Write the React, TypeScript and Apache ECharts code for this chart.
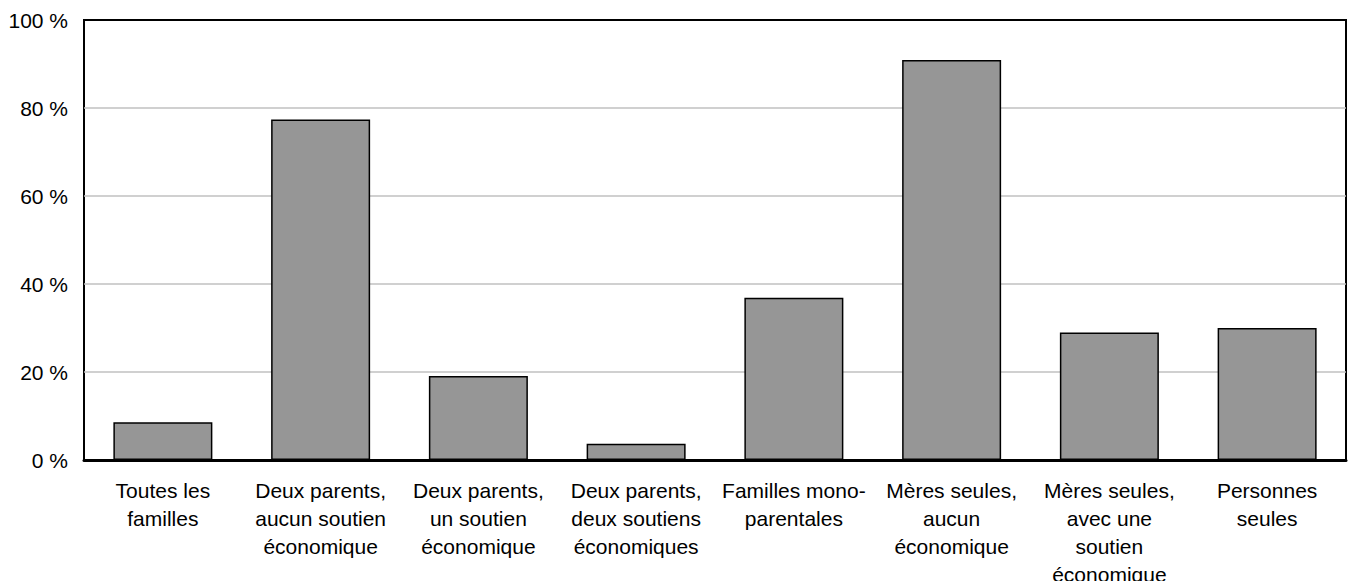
import React, { useEffect, useRef } from "react";
import * as echarts from "echarts";

const categories: string[] = [
  "Toutes les\nfamilles",
  "Deux parents,\naucun soutien\néconomique",
  "Deux parents,\nun soutien\néconomique",
  "Deux parents,\ndeux soutiens\néconomiques",
  "Familles mono-\nparentales",
  "Mères seules,\naucun\néconomique",
  "Mères seules,\navec une\nsoutien\néconomique",
  "Personnes\nseules",
];

const values: number[] = [8.6, 77.4, 19.1, 3.7, 36.9, 90.9, 29.0, 30.0];

const yTicks = { min: 0, max: 100, interval: 20 };

export default function App() {
  const ref = useRef<HTMLDivElement>(null);

  useEffect(() => {
    if (!ref.current) return;
    const chart = echarts.init(ref.current, undefined, { renderer: "svg" });
    const font = "'Liberation Sans', Arial, Helvetica, sans-serif";
    chart.setOption({
      animation: false,
      backgroundColor: "#ffffff",
      grid: {
        left: 84,
        top: 20,
        right: 2,
        height: 440,
        show: true,
        borderColor: "#000000",
        borderWidth: 2,
        backgroundColor: "transparent",
        containLabel: false,
        outerBoundsMode: "none",
      },
      xAxis: {
        type: "category",
        data: categories,
        axisLine: { show: true, lineStyle: { color: "#000000", width: 3 } },
        axisTick: { show: false },
        axisLabel: {
          color: "#000000",
          fontFamily: font,
          fontSize: 21,
          lineHeight: 28,
          margin: 16,
          interval: 0,
          align: "center",
          hideOverlap: false,
        },
        z: 5,
      },
      yAxis: {
        type: "value",
        min: yTicks.min,
        max: yTicks.max,
        interval: yTicks.interval,
        axisLine: { show: false },
        axisTick: { show: false },
        axisLabel: {
          color: "#000000",
          fontFamily: font,
          fontSize: 21,
          margin: 16,
          formatter: "{value} %",
        },
        splitLine: {
          show: true,
          showMinLine: false,
          showMaxLine: false,
          lineStyle: { color: "#c0c0c0", width: 1.5 },
        },
      },
      series: [
        {
          type: "bar",
          data: values,
          barWidth: 99,
          itemStyle: {
            color: "#969696",
            borderColor: "#000000",
            borderWidth: 1.5,
          },
          z: 3,
        },
      ],
    });
    return () => chart.dispose();
  }, []);

  return (
    <div
      ref={ref}
      style={{ position: "fixed", left: 0, top: 0, width: 1348, height: 581 }}
    />
  );
}
